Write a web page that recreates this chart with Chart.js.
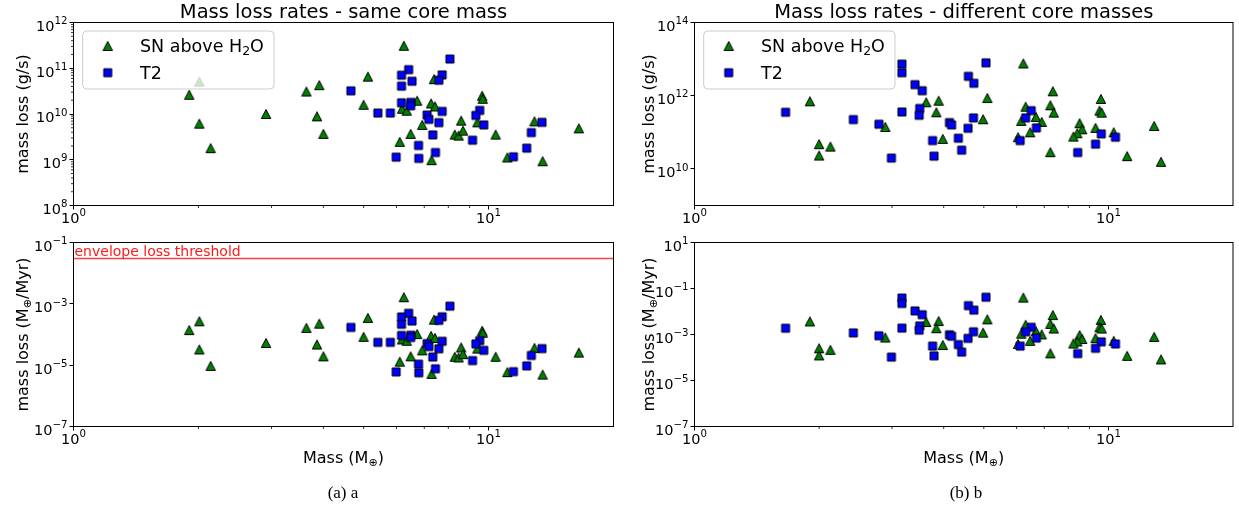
<!DOCTYPE html>
<html>
<head>
<meta charset="utf-8">
<script src="https://cdn.jsdelivr.net/npm/chart.js@4"></script>
<style>
  html, body { margin: 0; padding: 0; background: #fff; }
  #wrap { position: relative; width: 1239px; height: 511px; overflow: hidden; }
  canvas { position: absolute; left: 0; top: 0; }
  .cap { position: absolute; top: 482px; line-height: 22px; font-family: "Liberation Serif", "DejaVu Serif", serif; font-size: 17px; transform: translateX(-50%); white-space: nowrap; }
</style>
</head>
<body>
<div id="wrap">
  <canvas id="aTop" width="1239" height="511"></canvas>
  <canvas id="aBot" width="1239" height="511"></canvas>
  <canvas id="bTop" width="1239" height="511"></canvas>
  <canvas id="bBot" width="1239" height="511"></canvas>
  <div class="cap" style="left:343px">(a) a</div>
  <div class="cap" style="left:966px">(b) b</div>
</div>
<script>
// (a) same core mass
const aSnMass = [1.90, 2.01, 2.01, 2.14, 2.91, 3.64, 3.91, 3.86, 4.00, 5.12, 5.00, 6.25, 7.39, 6.73, 6.19, 6.35, 7.27, 7.43, 8.59, 6.92, 6.49, 6.11, 8.29, 8.47, 8.68, 9.65, 9.68, 9.40, 10.4, 7.29, 12.9, 11.1, 13.5, 16.5];
const aSnRate = [2.63e10, 5.1e10, 6.15e9, 1.79e9, 1.0e10, 3.1e10, 4.27e10, 8.9e9, 3.67e9, 6.56e10, 1.59e10, 3.1e11, 5.77e10, 1.95e10, 1.3e10, 1.18e10, 1.7e10, 1.46e10, 7.15e9, 5.77e9, 3.67e9, 2.46e9, 3.55e9, 3.37e9, 4.33e9, 2.5e10, 2.15e10, 6.57e9, 3.55e9, 9.8e8, 6.9e9, 1.12e9, 9.3e8, 4.86e9];
const aSnMyr = [1.39e-4, 2.70e-4, 3.25e-5, 9.46e-6, 5.29e-5, 1.64e-4, 2.26e-4, 4.70e-5, 1.94e-5, 3.47e-4, 8.40e-5, 1.64e-3, 3.05e-4, 1.03e-4, 6.87e-5, 6.24e-5, 8.98e-5, 7.72e-5, 3.78e-5, 3.05e-5, 1.94e-5, 1.30e-5, 1.88e-5, 1.78e-5, 2.29e-5, 1.32e-4, 1.14e-4, 3.47e-5, 1.88e-5, 5.18e-6, 3.65e-5, 5.92e-6, 4.92e-6, 2.57e-5];
const aT2Mass = [4.66, 5.41, 5.80, 8.07, 6.42, 6.17, 7.73, 7.59, 6.54, 6.17, 6.17, 6.50, 6.49, 7.73, 7.11, 7.18, 7.59, 7.34, 9.15, 9.52, 9.32, 9.74, 6.78, 7.45, 5.99, 6.79, 13.45, 12.68, 12.36, 11.48];
const aT2Rate = [3.21e10, 1.05e10, 1.05e10, 1.59e11, 9.33e10, 7.05e10, 7.15e10, 5.48e10, 5.21e10, 4.06e10, 1.76e10, 1.79e10, 1.51e10, 1.14e10, 9.5e9, 7.63e9, 6.47e9, 3.49e9, 2.67e9, 1.2e10, 9.33e9, 5.77e9, 2.05e9, 1.44e9, 1.14e9, 1.07e9, 6.57e9, 3.92e9, 1.79e9, 1.16e9];
const aT2Myr = [1.70e-4, 5.55e-5, 5.55e-5, 8.40e-4, 4.93e-4, 3.73e-4, 3.78e-4, 2.90e-4, 2.75e-4, 2.15e-4, 9.30e-5, 9.46e-5, 7.98e-5, 6.02e-5, 5.02e-5, 4.03e-5, 3.42e-5, 1.84e-5, 1.41e-5, 6.34e-5, 4.93e-5, 3.05e-5, 1.08e-5, 7.61e-6, 6.02e-6, 5.65e-6, 3.47e-5, 2.07e-5, 9.46e-6, 6.13e-6];

// (b) different core masses
const bSnMass = [1.90, 2.00, 2.00, 2.13, 2.89, 3.63, 3.89, 3.84, 3.98, 6.23, 5.10, 4.98, 7.34, 7.24, 7.38, 6.31, 6.16, 6.68, 6.90, 6.47, 6.05, 7.24, 9.59, 9.52, 9.63, 8.52, 8.64, 8.41, 8.23, 9.31, 10.3, 11.1, 12.9, 13.4];
const bSnRate = [7.03e11, 4.74e10, 2.32e10, 4.07e10, 1.4e11, 6.6e11, 7.3e11, 3.53e11, 6.6e10, 7.6e12, 8.65e11, 2.28e11, 1.32e12, 5.47e11, 3.44e11, 5.0e11, 2.05e11, 2.63e11, 1.92e11, 1.0e11, 7.35e10, 2.87e10, 8.13e11, 3.9e11, 3.44e11, 1.77e11, 1.21e11, 9.45e10, 7.64e10, 1.32e11, 1.0e11, 2.23e10, 1.49e11, 1.56e10];
const bSnMyr = [3.72e-3, 2.51e-4, 1.23e-4, 2.15e-4, 7.40e-4, 3.49e-3, 3.86e-3, 1.87e-3, 3.49e-4, 4.02e-2, 4.57e-3, 1.20e-3, 6.98e-3, 2.89e-3, 1.82e-3, 2.64e-3, 1.08e-3, 1.39e-3, 1.01e-3, 5.29e-4, 3.88e-4, 1.52e-4, 4.30e-3, 2.06e-3, 1.82e-3, 9.35e-4, 6.39e-4, 4.99e-4, 4.04e-4, 6.98e-4, 5.29e-4, 1.18e-4, 7.87e-4, 8.24e-5];
const bT2Mass = [1.66, 2.42, 2.79, 2.99, 3.17, 3.17, 3.17, 3.41, 3.55, 3.50, 3.49, 3.76, 3.79, 4.13, 4.18, 4.34, 4.42, 4.58, 4.72, 4.59, 4.73, 5.06, 6.51, 6.31, 6.70, 6.12, 8.43, 9.61, 9.31, 10.4];
const bT2Rate = [3.53e11, 2.22e11, 1.66e11, 1.97e10, 7.3e12, 4.24e12, 3.6e11, 2.0e12, 1.37e12, 4.48e11, 2.92e11, 5.94e10, 2.23e10, 1.84e11, 1.59e11, 6.9e10, 3.25e10, 1.29e11, 2.47e11, 3.38e12, 2.18e12, 7.9e12, 3.9e11, 2.47e11, 1.32e11, 5.94e10, 2.8e10, 9.04e10, 4.74e10, 7.35e10];
const bT2Myr = [1.87e-3, 1.17e-3, 8.77e-4, 1.04e-4, 3.86e-2, 2.24e-2, 1.90e-3, 1.06e-2, 7.24e-3, 2.37e-3, 1.54e-3, 3.14e-4, 1.18e-4, 9.72e-4, 8.40e-4, 3.65e-4, 1.72e-4, 6.82e-4, 1.31e-3, 1.79e-2, 1.15e-2, 4.18e-2, 2.06e-3, 1.31e-3, 6.98e-4, 3.14e-4, 1.48e-4, 4.78e-4, 2.51e-4, 3.88e-4];

const envelopeThreshold = 0.03;

// ticks, labels written as base^exponent
const massTicks = [1, 10];
const massTickLabels = ['10^0', '10^1'];
const aRateTicks = [1e8, 1e9, 1e10, 1e11, 1e12];
const aRateTickLabels = ['10^8', '10^9', '10^10', '10^11', '10^12'];
const aMyrTicks = [1e-7, 1e-5, 1e-3, 1e-1];
const aMyrTickLabels = ['10^−7', '10^−5', '10^−3', '10^−1'];
const bRateTicks = [1e10, 1e12, 1e14];
const bRateTickLabels = ['10^10', '10^12', '10^14'];
const bMyrTicks = [1e-7, 1e-5, 1e-3, 1e-1, 1e1];
const bMyrTickLabels = ['10^−7', '10^−5', '10^−3', '10^−1', '10^1'];

const FONT = '"DejaVu Sans", sans-serif';
const W = 1239, H = 511;
const TICK_SIZE = 14.5, EXP_SIZE = 10.2;

// matplotlib-like markers
function markerImage(shape, fill) {
  const c = document.createElement('canvas');
  c.width = 12; c.height = 12;
  const g = c.getContext('2d');
  g.beginPath();
  if (shape === 'tri') {
    g.moveTo(6, 1.5); g.lineTo(10.7, 10.5); g.lineTo(1.3, 10.5); g.closePath();
  } else {
    g.rect(2, 2, 8, 8);
  }
  g.fillStyle = fill; g.fill();
  g.lineWidth = 1; g.strokeStyle = '#000'; g.stroke();
  return c;
}
const triImg = markerImage('tri', '#008000');
const sqImg = markerImage('sq', '#0000ff');

function zip(xs, ys) { return xs.map((x, i) => ({ x: x, y: ys[i] })); }

// text with a lowered small part (M⊕)
function drawRich(ctx, runs, cx, cy, size, rotate) {
  ctx.save();
  ctx.translate(cx, cy);
  if (rotate) ctx.rotate(-Math.PI / 2);
  let w = 0;
  runs.forEach(r => { ctx.font = (r.sub ? size * 0.7 : size) + 'px ' + FONT; w += ctx.measureText(r.t).width; });
  let x = -w / 2;
  ctx.textBaseline = 'alphabetic';
  ctx.textAlign = 'left';
  runs.forEach(r => {
    ctx.font = (r.sub ? size * 0.7 : size) + 'px ' + FONT;
    ctx.fillText(r.t, x, size * 0.36 + (r.sub ? size * 0.22 : 0));
    x += ctx.measureText(r.t).width;
  });
  ctx.restore();
}

// "10^12" drawn as 10 with a raised exponent; anchor 'right' (y axis) or 'center' (x axis)
function drawPow(ctx, label, x, baseline, anchor) {
  const parts = label.split('^');
  ctx.font = TICK_SIZE + 'px ' + FONT;
  const wb = ctx.measureText(parts[0]).width;
  ctx.font = EXP_SIZE + 'px ' + FONT;
  const we = ctx.measureText(parts[1]).width;
  const x0 = anchor === 'right' ? x - wb - we : x - (wb + we) / 2;
  ctx.textAlign = 'left';
  ctx.textBaseline = 'alphabetic';
  ctx.font = TICK_SIZE + 'px ' + FONT;
  ctx.fillText(parts[0], x0, baseline);
  ctx.font = EXP_SIZE + 'px ' + FONT;
  ctx.fillText(parts[1], x0 + wb, baseline - 6.7);
}

const decor = {
  id: 'decor',
  afterDatasetsDraw(chart, args, o) {
    const ctx = chart.ctx, a = chart.chartArea;
    const sx = chart.scales.x, sy = chart.scales.y;
    ctx.save();
    ctx.fillStyle = '#000';
    ctx.strokeStyle = '#000';

    // minor ticks
    ctx.lineWidth = 0.8;
    ctx.beginPath();
    for (let k = 2; k <= 9; k++) {
      const px = sx.getPixelForValue(k);
      ctx.moveTo(px, a.bottom); ctx.lineTo(px, a.bottom + 2.5);
    }
    if (o.yMinor) {
      for (let d = o.yMinor[0]; d < o.yMinor[1]; d++) {
        for (let k = 2; k <= 9; k++) {
          const py = sy.getPixelForValue(k * Math.pow(10, d));
          ctx.moveTo(a.left, py); ctx.lineTo(a.left - 2.5, py);
        }
      }
    }
    ctx.stroke();

    // frame
    ctx.lineWidth = 1;
    ctx.strokeRect(a.left, a.top, a.right - a.left, a.bottom - a.top);

    // tick labels at the scale's own tick positions
    sx.ticks.forEach((t, i) => drawPow(ctx, massTickLabels[i], sx.getPixelForValue(t.value), a.bottom + 17.5, 'center'));
    sy.ticks.forEach((t, i) => drawPow(ctx, o.yLabels[i], a.left - 6, sy.getPixelForValue(t.value) + 8.4, 'right'));

    // threshold label
    if (o.threshold) {
      const py = sy.getPixelForValue(o.threshold);
      ctx.fillStyle = 'rgba(255,0,0,0.9)';
      ctx.font = '14px ' + FONT;
      ctx.textAlign = 'left';
      ctx.textBaseline = 'alphabetic';
      ctx.fillText('envelope loss threshold', a.left + 1, py - 3);
      ctx.fillStyle = '#000';
    }

    // legend
    if (o.legend) {
      const L = a.left + 9.2, T = a.top + 8.5, LW = 191.3, LH = 58;
      ctx.beginPath();
      if (ctx.roundRect) ctx.roundRect(L, T, LW, LH, 4); else ctx.rect(L, T, LW, LH);
      ctx.fillStyle = 'rgba(255,255,255,0.8)';
      ctx.fill();
      ctx.strokeStyle = '#cccccc';
      ctx.stroke();
      ctx.drawImage(triImg, L + 25 - 6, T + 15 - 6);
      ctx.drawImage(sqImg, L + 25 - 6, T + 41.7 - 6);
      ctx.fillStyle = '#000';
      ctx.textAlign = 'left';
      ctx.textBaseline = 'alphabetic';
      ctx.font = '17.5px ' + FONT;
      ctx.fillText('SN above H', L + 57.3, T + 21.4);
      let wx = L + 57.3 + ctx.measureText('SN above H').width;
      ctx.font = '12.5px ' + FONT;
      ctx.fillText('2', wx, T + 24.4);
      wx += ctx.measureText('2').width;
      ctx.font = '17.5px ' + FONT;
      ctx.fillText('O', wx, T + 21.4);
      ctx.fillText('T2', L + 57.3, T + 48.1);
    }

    // title
    if (o.title) {
      ctx.font = '19.5px ' + FONT;
      ctx.textAlign = 'center';
      ctx.textBaseline = 'alphabetic';
      ctx.fillText(o.title, (a.left + a.right) / 2, 18.3);
    }

    // axis titles
    drawRich(ctx, o.yTitle, o.yTitleX, (a.top + a.bottom) / 2, 16, true);
    if (o.xTitle) drawRich(ctx, o.xTitle, (a.left + a.right) / 2, 457, 16, false);
    ctx.restore();
  }
};

function panel(id, p) {
  const xH = 24;
  const datasets = [
    { label: 'SN above H₂O', data: zip(p.snMass, p.snVal), pointStyle: triImg, pointRadius: 5, order: 2 },
    { label: 'T2', data: zip(p.t2Mass, p.t2Val), pointStyle: sqImg, pointRadius: 5, order: 1 }
  ];
  if (p.threshold) {
    datasets.push({ label: 'threshold', data: [{ x: 1, y: p.threshold }, { x: 20, y: p.threshold }],
      showLine: true, pointRadius: 0, borderColor: 'rgba(255,0,0,0.75)', borderWidth: 1.4, order: 3 });
  }
  new Chart(document.getElementById(id), {
    type: 'scatter',
    data: { datasets: datasets },
    options: {
      responsive: false,
      animation: false,
      devicePixelRatio: 1,
      events: [],
      layout: { padding: { left: p.padLeft, top: p.top, right: W - p.right, bottom: H - p.bottom - xH } },
      plugins: {
        legend: { display: false },
        tooltip: { enabled: false },
        decor: { title: p.title, legend: p.legend, yTitle: p.yTitle, yTitleX: p.yTitleX, xTitle: p.xTitle, threshold: p.threshold, yMinor: p.yMinor, yLabels: p.yLabels }
      },
      scales: {
        x: {
          type: 'logarithmic', min: 1, max: 20,
          afterFit: s => { s.height = xH; },
          afterBuildTicks: s => { s.ticks = massTicks.map(v => ({ value: v })); },
          ticks: { display: false, autoSkip: false },
          grid: { drawOnChartArea: false, tickLength: 4, tickColor: '#000', tickWidth: 1 },
          border: { display: false }
        },
        y: {
          type: 'logarithmic', min: p.yMin, max: p.yMax,
          afterFit: s => { s.width = p.yW; },
          afterBuildTicks: s => { s.ticks = p.yTicks.map(v => ({ value: v })); },
          ticks: { display: false, autoSkip: false },
          grid: { drawOnChartArea: false, tickLength: 4, tickColor: '#000', tickWidth: 1 },
          border: { display: false }
        }
      }
    },
    plugins: [decor]
  });
}

const gsTitle = [{ t: 'mass loss (g/s)' }];
const myrTitle = [{ t: 'mass loss (M' }, { t: '⊕', sub: true }, { t: '/Myr)' }];
const massTitle = [{ t: 'Mass (M' }, { t: '⊕', sub: true }, { t: ')' }];

panel('aTop', {
  padLeft: 0, yW: 73.5, top: 22.5, right: 613.5, bottom: 205.5,
  snMass: aSnMass, snVal: aSnRate, t2Mass: aT2Mass, t2Val: aT2Rate,
  yMin: 1e8, yMax: 1e12, yTicks: aRateTicks, yLabels: aRateTickLabels, yMinor: [8, 12],
  title: 'Mass loss rates - same core mass', legend: true, yTitle: gsTitle, yTitleX: 22
});
panel('aBot', {
  padLeft: 0, yW: 73.5, top: 242.5, right: 613.5, bottom: 426.5,
  snMass: aSnMass, snVal: aSnMyr, t2Mass: aT2Mass, t2Val: aT2Myr,
  yMin: 1e-7, yMax: 1e-1, yTicks: aMyrTicks, yLabels: aMyrTickLabels,
  threshold: envelopeThreshold, yTitle: myrTitle, yTitleX: 22, xTitle: massTitle
});
panel('bTop', {
  padLeft: 630, yW: 64.5, top: 22.5, right: 1237.5, bottom: 205.5,
  snMass: bSnMass, snVal: bSnRate, t2Mass: bT2Mass, t2Val: bT2Rate,
  yMin: 1e9, yMax: 1e14, yTicks: bRateTicks, yLabels: bRateTickLabels,
  title: 'Mass loss rates - different core masses', legend: true, yTitle: gsTitle, yTitleX: 648
});
panel('bBot', {
  padLeft: 630, yW: 64.5, top: 242.5, right: 1237.5, bottom: 426.5,
  snMass: bSnMass, snVal: bSnMyr, t2Mass: bT2Mass, t2Val: bT2Myr,
  yMin: 1e-7, yMax: 1e1, yTicks: bMyrTicks, yLabels: bMyrTickLabels,
  yTitle: myrTitle, yTitleX: 648, xTitle: massTitle
});
</script>
</body>
</html>
